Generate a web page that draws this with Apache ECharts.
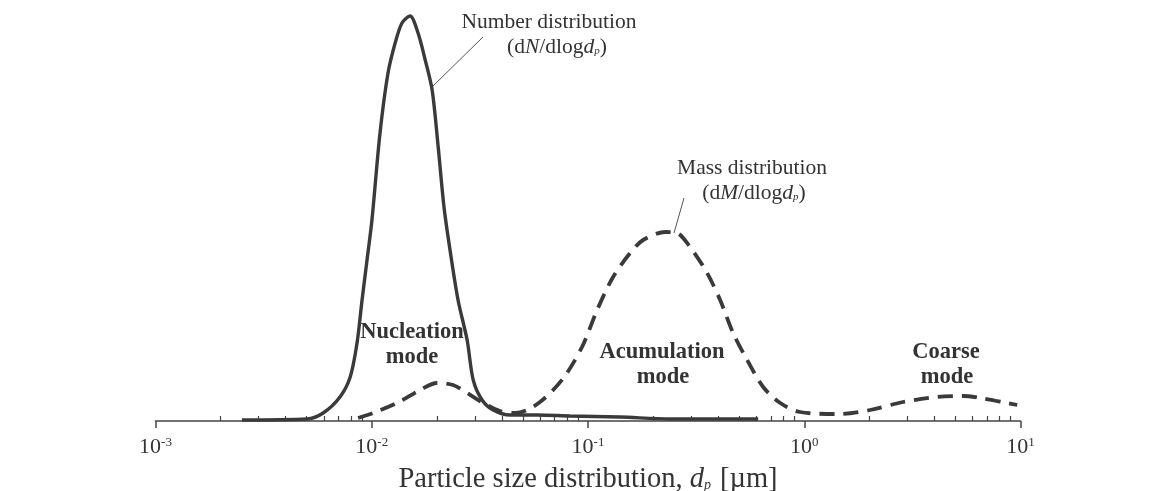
<!DOCTYPE html>
<html>
<head>
<meta charset="utf-8">
<script src="https://cdn.jsdelivr.net/npm/echarts@6/dist/echarts.min.js"></script>
<style>
html,body{margin:0;padding:0;background:#fff;overflow:hidden;}
#chart{width:1165px;height:491px;}
</style>
</head>
<body>
<div id="chart"></div>
<script>
// Particle diameter (µm) and relative distribution values (arbitrary units)
const numberX = [0.00251,0.00502,0.00596,0.00713,0.00795,0.00855,0.00902,0.00951,0.01002,0.01092,0.01189,0.01283,0.01380,0.01503,0.01637,0.01767,0.01902,0.02029,0.02158,0.02301,0.02506,0.02761,0.02946,0.03237,0.03640,0.04365,0.05823,0.0826,0.1406,0.240,0.612];
const numberY = [1,2,8,24,44,78,121,161,201,288,348,378,398,405,388,361,331,274,214,171,121,81,41,21,11,6,6,5,4,2,2];

const massX = [0.00865,0.01014,0.01309,0.01671,0.02004,0.02377,0.02761,0.03275,0.03917,0.04603,0.05226,0.05998,0.0690,0.0800,0.0948,0.1102,0.1306,0.1567,0.1799,0.2277,0.2582,0.2965,0.3556,0.4083,0.4688,0.5445,0.6457,0.7745,0.957,1.435,2.018,2.866,4.12,5.43,6.51,8.67,9.66];
const massY = [3,8,18,31,38,36,28,18,10,8,11,19,31,48,76,111,144,168,181,189,188,174,148,121,88,61,34,18,9,7,11,19,24,25,23,18,16];

const majorTicks = [0.001,0.01,0.1,1,10];
const minorMultipliers = [2,3,4,5,6,7,8,9];
const decades = [0.001,0.01,0.1,1];

const minorTicks = [];
decades.forEach(d => minorMultipliers.forEach(m => minorTicks.push(+(d*m).toPrecision(6))));

const ink = '#3a3a3a';
const serif = '"Liberation Serif", "Times New Roman", serif';

const chart = echarts.init(document.getElementById('chart'));

function pair(xs, ys){ return xs.map((x,i)=>[x, ys[i]]); }

function txt(x, y, text, font, extra){
  return {type:'text', x: x, y: y, style: Object.assign({text: text, font: font, fill:'#333',
    textAlign:'center', textVerticalAlign:'middle', align:'center', verticalAlign:'middle'}, extra || {})};
}
const richAnn = {
  i:{fontFamily:serif, fontSize:21.5, fontStyle:'italic', fill:'#333'},
  sub:{fontFamily:serif, fontSize:11, fontStyle:'italic', fill:'#333', padding:[9,0,0,0]}
};

const option = {
  backgroundColor: '#ffffff',
  animation: false,
  grid: {left: 155.5, right: 144.5, top: 1, bottom: 70, containLabel: false, outerBoundsMode: 'none'},
  xAxis: [{
    type: 'log', logBase: 10, min: 0.001, max: 10,
    axisLine: {show: true, lineStyle: {color: '#444', width: 1.5}},
    axisTick: {show: true, inside: false, length: 7, lineStyle: {color: '#444', width: 1.5}, customValues: majorTicks},
    splitLine: {show: false},
    axisLabel: {
      customValues: majorTicks,
      margin: 15,
      formatter: function(v){
        const e = Math.round(Math.log10(v));
        return '{b|10}{s|' + e + '}';
      },
      rich: {
        b: {fontFamily: serif, fontSize: 22, color: '#333'},
        s: {fontFamily: serif, fontSize: 13, color: '#333', padding: [0,0,10,0]}
      }
    },
    name: '{t|Particle size distribution, }{i|d}{sub|p}{t| [\u00b5m]}',
    nameLocation: 'middle',
    nameGap: 44,
    nameTextStyle: {
      rich: {
        t: {fontFamily: serif, fontSize: 28.5, color: '#333'},
        i: {fontFamily: serif, fontSize: 28.5, fontStyle: 'italic', color: '#333'},
        sub: {fontFamily: serif, fontSize: 14, fontStyle: 'italic', color: '#333', padding: [12,2,0,0]}
      }
    }
  },{
    type: 'log', logBase: 10, min: 0.001, max: 10,
    position: 'bottom',
    axisLine: {show: false},
    axisTick: {show: true, inside: true, length: 5, lineStyle: {color: '#444', width: 1.2}, customValues: minorTicks},
    axisLabel: {show: false},
    splitLine: {show: false}
  }],
  yAxis: {type: 'value', min: 0, max: 420, show: false},
  series: [{
    name: 'Number distribution',
    type: 'line',
    xAxisIndex: 0,
    data: pair(numberX, numberY),
    showSymbol: false,
    smooth: 0.3,
    lineStyle: {color: ink, width: 3.4}
  },{
    name: 'Mass distribution',
    type: 'line',
    xAxisIndex: 0,
    data: pair(massX, massY),
    showSymbol: false,
    smooth: 0.3,
    lineStyle: {color: ink, width: 3.8, type: [15, 9], cap: 'butt'}
  }],
  graphic: [
    txt(549, 22, 'Number distribution', '21.5px ' + serif),
    txt(557, 47, '(d{i|N}/dlog{i|d}{sub|p})', '21.5px ' + serif, {rich: richAnn}),
    {type:'line', shape:{x1:483, y1:37, x2:432, y2:87}, style:{stroke:'#555', lineWidth:1}},
    txt(752, 168, 'Mass distribution', '21.5px ' + serif),
    txt(754, 193, '(d{i|M}/dlog{i|d}{sub|p})', '21.5px ' + serif, {rich: richAnn}),
    {type:'line', shape:{x1:684, y1:198, x2:674, y2:233}, style:{stroke:'#555', lineWidth:1}},
    txt(412, 332, 'Nucleation', 'bold 22.5px ' + serif),
    txt(412, 357, 'mode', 'bold 22.5px ' + serif),
    txt(662, 352, 'Acumulation', 'bold 22.5px ' + serif),
    txt(663, 377, 'mode', 'bold 22.5px ' + serif),
    txt(946, 352, 'Coarse', 'bold 22.5px ' + serif),
    txt(947, 377, 'mode', 'bold 22.5px ' + serif)
  ]
};
chart.setOption(option);
</script>
</body>
</html>
